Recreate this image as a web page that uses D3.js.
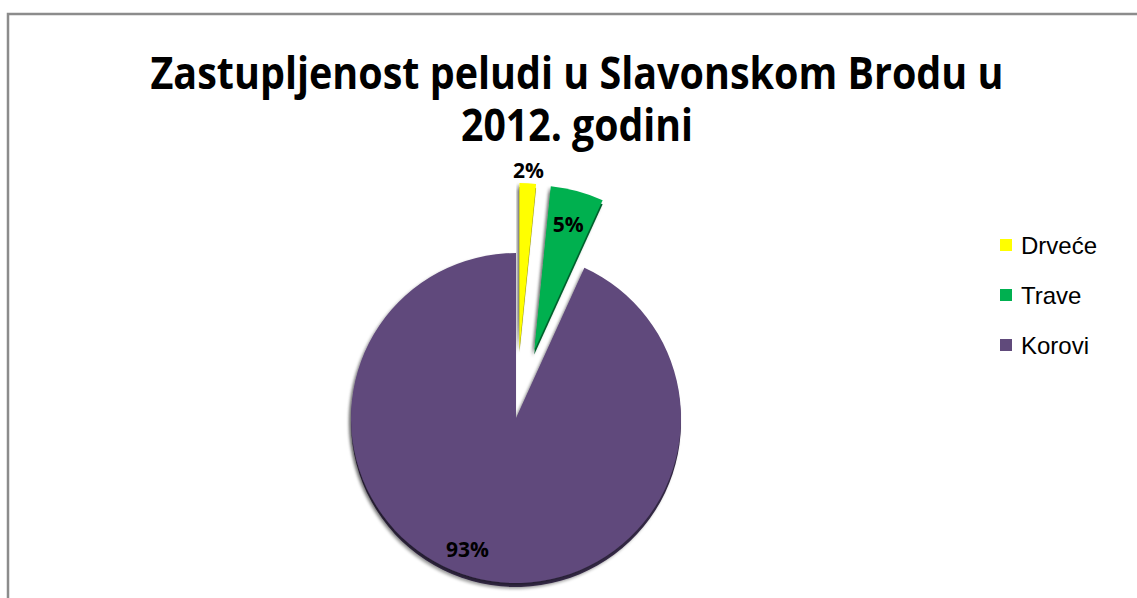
<!DOCTYPE html>
<html>
<head>
<meta charset="utf-8">
<script src="https://cdn.jsdelivr.net/npm/d3@7"></script>
<style>
  html, body { margin: 0; padding: 0; background: #fff; }
  svg { display: block; }
</style>
</head>
<body>
<div id="chart"></div>
<script>
// ---- data ----
const categories = ["Drveće", "Trave", "Korovi"];
const values = [1.6, 5.2, 93.2];
const valueLabels = ["2%", "5%", "93%"];
const titleLines = ["Zastupljenost peludi u Slavonskom Brodu u", "2012. godini"];

// ---- style ----
const colors = ["#FFFF00", "#00B050", "#604A7B"];
const explode = [70, 70, 0];
const W = 1137, H = 598;
const cx = 516, cy = 418, R = 165;

const svg = d3.select("#chart").append("svg")
  .attr("width", W).attr("height", H);

const defs = svg.append("defs");
const f = defs.append("filter").attr("id", "shadow")
  .attr("x", "-20%").attr("y", "-20%").attr("width", "140%").attr("height", "140%");
f.append("feDropShadow").attr("dx", -2).attr("dy", 2).attr("stdDeviation", 1.8)
  .attr("flood-color", "#000").attr("flood-opacity", 0.35);

// frame
svg.append("path")
  .attr("d", `M8,${H} L8,14 L${W},14`)
  .attr("fill", "none").attr("stroke", "#8c8c8c").attr("stroke-width", 2.5);

// title
const titleW = [853, 232];
const titleY = [89, 141];
titleLines.forEach((t, i) => {
  svg.append("text")
    .attr("text-anchor", "middle")
    .attr("font-family", "'Open Sans', 'Noto Sans', sans-serif")
    .attr("font-weight", "bold")
    .attr("font-size", 45)
    .attr("fill", "#000")
    .attr("x", 577).attr("y", titleY[i])
    .attr("textLength", titleW[i])
    .attr("lengthAdjust", "spacingAndGlyphs")
    .text(t);
});

// pie
const pie = d3.pie().sort(null).value(d => d)
  .startAngle(0).endAngle(2 * Math.PI);
const arcs = pie(values);
const arc = d3.arc().innerRadius(0).outerRadius(R);

const g = svg.append("g").attr("transform", `translate(${cx},${cy})`);

function offset(d, i) {
  const a = (d.startAngle + d.endAngle) / 2;
  return [explode[i] * Math.sin(a), -explode[i] * Math.cos(a)];
}

// dark bevel edge under slices
g.selectAll("path.edge").data(arcs).enter().append("path")
  .attr("class", "edge")
  .attr("d", arc)
  .attr("transform", (d, i) => { const o = offset(d, i); return `translate(${o[0]},${o[1] + 4})`; })
  .attr("fill", (d, i) => d3.color(colors[i]).darker(1.6))
  .attr("filter", "url(#shadow)");

g.selectAll("path.slice").data(arcs).enter().append("path")
  .attr("class", "slice")
  .attr("d", arc)
  .attr("transform", (d, i) => { const o = offset(d, i); return `translate(${o[0]},${o[1]})`; })
  .attr("fill", (d, i) => colors[i])
  .attr("filter", "url(#shadow)");

// labels
const labelR = [R + 13, R * 0.79, R * 0.85];
const labelDA = [0, 0, 0.14];
g.selectAll("text.lbl").data(arcs).enter().append("text")
  .attr("class", "lbl")
  .attr("x", (d, i) => { const a = (d.startAngle + d.endAngle) / 2 + labelDA[i]; return offset(d, i)[0] + labelR[i] * Math.sin(a); })
  .attr("y", (d, i) => { const a = (d.startAngle + d.endAngle) / 2 + labelDA[i]; return offset(d, i)[1] - labelR[i] * Math.cos(a); })
  .attr("dy", "0.35em")
  .attr("text-anchor", "middle")
  .attr("font-family", "'Open Sans', 'Noto Sans', sans-serif")
  .attr("font-weight", "bold")
  .attr("font-size", 21)
  .attr("fill", "#000")
  .text((d, i) => valueLabels[i]);

// legend
const legend = svg.append("g");
const ly = d3.scalePoint().domain(categories).range([245, 345]);
categories.forEach((c, i) => {
  legend.append("rect")
    .attr("x", 1000).attr("y", ly(c) - 6)
    .attr("width", 12).attr("height", 12)
    .attr("fill", colors[i]);
  legend.append("text")
    .attr("x", 1021).attr("y", ly(c))
    .attr("dy", "0.36em")
    .attr("font-family", "'Liberation Sans', Arial, sans-serif")
    .attr("font-size", 24)
    .attr("fill", "#000")
    .text(c);
});
</script>
</body>
</html>
